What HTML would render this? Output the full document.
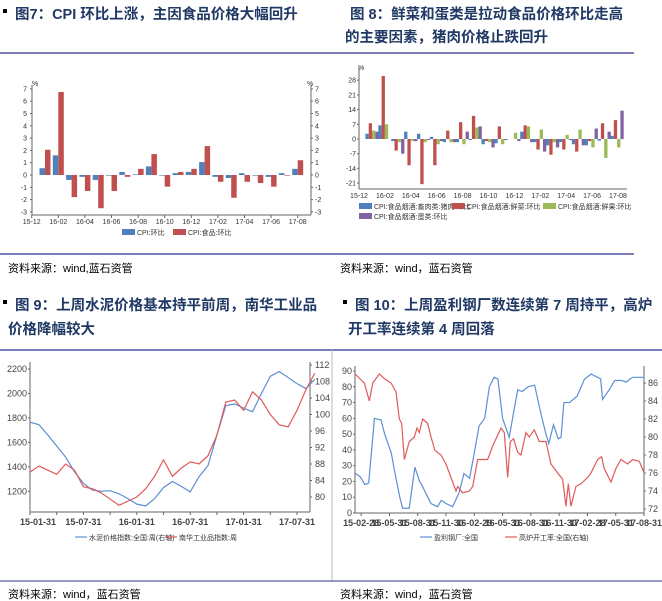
<!DOCTYPE html>
<html><head><meta charset="utf-8"><style>
body{margin:0;background:#fff}
svg{display:block;font-family:"Liberation Sans","Noto Sans CJK SC",sans-serif}
.tt{font-weight:bold;fill:#1f3864;font-size:14.5px}
.src{font-size:11px;fill:#000}
.ax{font-size:7px;fill:#333}
.ax2{font-size:9px;fill:#444}
</style></head><body>
<svg id="s" width="662" height="601" viewBox="0 0 662 601">
<rect x="3" y="9" width="4" height="4" fill="#000"/>
<text class="tt" x="15" y="19">图7：CPI 环比上涨，主因食品价格大幅回升</text>
<text class="tt" x="350" y="19">图 8：鲜菜和蛋类是拉动食品价格环比走高</text>
<text class="tt" x="345" y="42">的主要因素，猪肉价格止跌回升</text>
<line x1="0" y1="53" x2="634" y2="53" stroke="#2e3192" stroke-width="1.2"/>
<line x1="0" y1="254" x2="634" y2="254" stroke="#2e3192" stroke-width="1.2"/>
<text class="src" x="8" y="272">资料来源：wind,蓝石资管</text>
<text class="src" x="340" y="272">资料来源：wind，蓝石资管</text>
<rect x="3" y="300" width="4" height="4" fill="#000"/>
<text class="tt" x="15" y="310">图 9：上周水泥价格基本持平前周，南华工业品</text>
<text class="tt" x="8" y="334">价格降幅较大</text>
<rect x="343" y="300" width="4" height="4" fill="#000"/>
<text class="tt" x="355" y="310">图 10：上周盈利钢厂数连续第 7 周持平，高炉</text>
<text class="tt" x="348" y="334">开工率连续第 4 周回落</text>
<line x1="0" y1="350" x2="662" y2="350" stroke="#2e3192" stroke-width="1.2"/>
<line x1="332" y1="350" x2="332" y2="581" stroke="#bbb" stroke-width="1"/>
<line x1="0" y1="581" x2="662" y2="581" stroke="#2e3192" stroke-width="1"/>
<text class="src" x="8" y="598">资料来源：wind，蓝石资管</text>
<text class="src" x="340" y="598">资料来源：wind，蓝石资管</text>
<g id="g7"></g>
<g id="g8"></g>
<g id="g9"></g>
<g id="g10"></g>
</svg>
<script>
const NS="http://www.w3.org/2000/svg";
function mk(p,t,a,txt){const e=document.createElementNS(NS,t);for(const k in a)e.setAttribute(k,a[k]);if(txt!=null)e.textContent=txt;p.appendChild(e);return e;}

// ---- Chart 7 data ----
const months7=["16-01","16-02","16-03","16-04","16-05","16-06","16-07","16-08","16-09","16-10","16-11","16-12","17-01","17-02","17-03","17-04","17-05","17-06","17-07","17-08"];
const cpiMoM=[0.55,1.6,-0.4,-0.15,-0.4,-0.05,0.25,0.05,0.7,-0.05,0.15,0.25,1.05,-0.15,-0.25,0.15,-0.05,-0.15,0.15,0.5];
const foodMoM=[2.05,6.75,-1.8,-1.3,-2.7,-1.3,-0.15,0.5,1.7,-0.95,0.25,0.5,2.35,-0.55,-1.85,-0.55,-0.65,-0.95,-0.05,1.2];
const ticks7=[-3,-2,-1,0,1,2,3,4,5,6,7];
const xlab7=["15-12","16-02","16-04","16-06","16-08","16-10","16-12","17-02","17-04","17-06","17-08"];

// ---- Chart 8 data ----
const vegMoM=[2.5,6.5,-1,3.5,2.5,1,-1.5,-1.5,-0.5,-2.5,-2,0,3.5,-1.5,-3,-1.5,-2.5,-3,-0.8,1.5];
const freshMoM=[7.5,30,-5.5,-12.5,-21.5,-12.5,4,8,11,-1,6,0,6.5,-5,-7.5,-5,-6,-1,7.5,9];
const porkMoM=[4,7,-1.5,-1,-1.5,-2.5,-1.5,-2.5,5.5,-1.5,-2.5,3,6,4.5,-1.5,2,4.5,-4,-9,-4];
const eggMoM=[3.5,0,-7,-1,-0.5,-1,-1.5,3.5,6,-4,-0.5,-1,-1.5,-6,-4,-0.5,-3,5,3.5,13.5];
const ticks8=[-21,-14,-7,0,7,14,21,28];

// ---- Chart 9 data (month index from 15-01-31) ----
const cementIdx=[1765,1745,1660,1570,1480,1360,1265,1210,1200,1205,1180,1140,1095,1080,1140,1230,1280,1240,1195,1320,1410,1660,1900,1915,1880,1850,2000,2140,2180,2130,2080,2040,2115];
const nanhuaIdx=[86,87.5,86.5,85.5,88,86.5,82.5,82,81,79.5,78,79,80,82,85,89,85,87,88.5,88,90,95,103,103.5,101,105.5,103.5,100,97.5,97,101,106,110];
const ticks9L=[1200,1400,1600,1800,2000,2200];
const ticks9R=[80,84,88,92,96,100,104,108,112];
const xlab9=["15-01-31","15-07-31","16-01-31","16-07-31","17-01-31","17-07-31"];

// ---- Chart 10 data (time in months from 15-01-31) ----
const steelT=[0.4,0.9,1.4,1.8,2.3,2.4,3.1,3.5,4.2,4.5,5.1,5.4,6.1,6.7,7.2,7.5,7.9,8.4,9.1,9.5,10.0,10.7,11.4,11.9,12.5,13.0,13.5,14.1,14.6,15.1,15.5,16.0,16.7,17.6,18.1,18.7,19.4,20.1,20.6,20.9,21.4,21.9,22.2,22.5,23.1,23.9,24.7,25.4,26.4,26.6,27.3,27.9,28.6,29.1,29.8,31.0];
const profitMills=[25,23,18,19,52,60,59,50,38,28,10,3,3,29,20,17,12,6,4,8,6,4,13,25,22,38,55,60,80,86,85,60,48,78,77,80,81,62,50,44,56,47,48,70,70,74,85,88,85,72,78,84,84,83,86,86];
const furnT=[0.35,1.34,1.87,2.23,2.93,3.46,4.17,4.7,5.05,5.3,5.58,6.11,6.64,6.93,7.17,7.53,8.06,8.41,8.83,9.47,10.0,10.53,11.06,11.24,11.77,12.47,12.83,13.36,13.89,14.42,14.95,15.83,16.18,16.54,16.82,17.17,17.6,17.95,18.48,18.83,19.36,19.89,20.6,21.13,21.84,22.37,22.72,22.97,23.25,23.78,24.31,25.02,25.37,26.08,26.5,26.78,27.49,28.02,28.55,29.26,29.79,30.49,31.02];
const furnaceRate=[87,86,84,86,87,86.5,86,85,82,81.5,77.5,79.5,80,81,80.5,82,81.5,80,78.5,78,77,75.5,74,74.5,73.8,74,74.5,77.5,77.5,77.5,79,81,80.5,75.5,79.5,79.8,78.3,78,80.5,80,80.8,79.5,79.5,77,76,75.3,72.3,74.8,72.3,74.5,74.8,75.5,76,77.5,77.8,76.5,75,76.5,77.5,77,77.5,77.3,76];
const ticks10L=[0,10,20,30,40,50,60,70,80,90];
const ticks10R=[72,74,76,78,80,82,84,86];
const xlab10=["15-02-28","15-05-31","15-08-31","15-11-30","16-02-29","16-05-31","16-08-31","16-11-30","17-02-28","17-05-31","17-08-31"];

const BLUE="#4f81bd",RED="#c0504d",GREEN="#9bbb59",PURP="#8064a2";

// ===== Chart 7 =====
(function(){
 const g=document.getElementById('g7');
 const y=v=>175-v*12.3, x=i=>45+13.3*i, x0=32,x1=311;
 mk(g,'line',{x1:x0,y1:y(7)-4,x2:x0,y2:215,stroke:'#666','stroke-width':1});
 mk(g,'line',{x1:x1,y1:y(7)-4,x2:x1,y2:215,stroke:'#666','stroke-width':1});
 mk(g,'line',{x1:x0,y1:215,x2:x1,y2:215,stroke:'#666','stroke-width':1});
 ticks7.forEach(t=>{
  const l=mk(g,'text',{class:'ax',x:x0-5,y:y(t)+2.5,'text-anchor':'end'},t);
  
  mk(g,'line',{x1:x0-2,y1:y(t),x2:x0,y2:y(t),stroke:'#666'});
  const r=mk(g,'text',{class:'ax',x:x1+4,y:y(t)+2.5},t);
  
  mk(g,'line',{x1:x1,y1:y(t),x2:x1+2,y2:y(t),stroke:'#666'});
 });
 mk(g,'text',{class:'ax',x:x0,y:y(7)-3,'font-size':5},'%');
 mk(g,'text',{class:'ax',x:x1-4,y:y(7)-3,'font-size':5},'%');
 xlab7.forEach((s,k)=>{const xx=45+13.3*(2*k-1);
  const t=mk(g,'text',{class:'ax',x:xx,y:224,'text-anchor':'middle'},s);
  
  mk(g,'line',{x1:xx,y1:215,x2:xx,y2:218,stroke:'#666'});});
 months7.forEach((m,i)=>{
  const a=cpiMoM[i],b=foodMoM[i];
  const r1=mk(g,'rect',{x:x(i)-5.5,y:Math.min(y(a),y(0)),width:5.5,height:Math.abs(y(a)-y(0)),fill:BLUE});
  
  const r2=mk(g,'rect',{x:x(i),y:Math.min(y(b),y(0)),width:5.5,height:Math.abs(y(b)-y(0)),fill:RED});
  
 });
 mk(g,'rect',{x:122,y:229,width:13,height:6,fill:BLUE});
 mk(g,'text',{class:'ax',x:137,y:235},'CPI:环比');
 mk(g,'rect',{x:173,y:229,width:13,height:6,fill:RED});
 mk(g,'text',{class:'ax',x:188,y:235},'CPI:食品:环比');
})();

// ===== Chart 8 =====
(function(){
 const g=document.getElementById('g8');
 const y=v=>139-v*2.1, x=i=>372+12.9*i, x0=359,x1=627;
 mk(g,'line',{x1:x0,y1:68,x2:x0,y2:189,stroke:'#666'});
 mk(g,'line',{x1:x0,y1:189,x2:x1,y2:189,stroke:'#666'});
 ticks8.forEach(t=>{
  const l=mk(g,'text',{class:'ax',x:x0-3,y:y(t)+2.5,'text-anchor':'end'},t);
  
  mk(g,'line',{x1:x0-2,y1:y(t),x2:x0,y2:y(t),stroke:'#666'});});
 mk(g,'text',{class:'ax',x:x0-1,y:70,'font-size':5},'%');
 xlab7.forEach((s,k)=>{const xx=359+12.95*2*k;
  const t=mk(g,'text',{class:'ax',x:xx,y:198,'text-anchor':'middle'},s);
  });
 const ser=[vegMoM,freshMoM,porkMoM,eggMoM],cols=[BLUE,RED,GREEN,PURP],nm=['veg','fresh','pork','egg'];
 months7.forEach((m,i)=>{ser.forEach((arr,s)=>{
  const v=arr[i];
  const r=mk(g,'rect',{x:x(i)-6.6+s*3.3,y:Math.min(y(v),y(0)),width:3.3,height:Math.abs(y(v)-y(0)),fill:cols[s]});
  
 });});
 const leg=[[359,203,BLUE,'CPI:食品烟酒:畜肉类:猪肉:环比'],[452,203,RED,'CPI:食品烟酒:鲜菜:环比'],[543,203,GREEN,'CPI:食品烟酒:鲜果:环比'],[359,213,PURP,'CPI:食品烟酒:蛋类:环比']];
 leg.forEach(l=>{mk(g,'rect',{x:l[0],y:l[1],width:13,height:6,fill:l[2]});mk(g,'text',{class:'ax','font-size':5.5,x:l[0]+15,y:l[1]+6},l[3]);});
})();

// ===== Chart 9 =====
(function(){
 const g=document.getElementById('g9');
 const yL=v=>369+(2200-v)*0.1223, yR=v=>365+(112-v)*4.125, x=m=>30+8.9*m, x0=30,x1=310,yb=512;
 mk(g,'line',{x1:x0,y1:362,x2:x0,y2:yb,stroke:'#666'});
 mk(g,'line',{x1:x1,y1:362,x2:x1,y2:yb,stroke:'#666'});
 mk(g,'line',{x1:x0,y1:yb,x2:x1,y2:yb,stroke:'#666'});
 ticks9L.forEach(t=>{const l=mk(g,'text',{class:'ax2',x:x0-3,y:yL(t)+3,'text-anchor':'end'},t);
  
  mk(g,'line',{x1:x0-2,y1:yL(t),x2:x0,y2:yL(t),stroke:'#666'});});
 ticks9R.forEach(t=>{const l=mk(g,'text',{class:'ax2',x:x1+5,y:yR(t)+3},t);
  
  mk(g,'line',{x1:x1,y1:yR(t),x2:x1+2,y2:yR(t),stroke:'#666'});});
 for(let m=0;m<=31;m+=3)mk(g,'line',{x1:x(m),y1:yb,x2:x(m),y2:yb+3,stroke:'#666'});
 xlab9.forEach((s,k)=>{const t=mk(g,'text',{class:'ax2','font-size':8.5,x:x(6*k)+(k==0?8:0),y:525,'text-anchor':'middle','font-weight':'bold'},s);
  });
 const p1=mk(g,'polyline',{points:cementIdx.map((v,i)=>x(i)+','+yL(v)).join(' '),fill:'none',stroke:'#5b8fd6','stroke-width':1.2});
 
 const p2=mk(g,'polyline',{points:nanhuaIdx.map((v,i)=>x(i)+','+yR(v)).join(' '),fill:'none',stroke:'#e05a5a','stroke-width':1.2});
 
 mk(g,'line',{x1:75,y1:537,x2:87,y2:537,stroke:'#5b8fd6','stroke-width':1.2});
 mk(g,'text',{class:'ax',x:89,y:540},'水泥价格指数:全国:周(右轴)');
 mk(g,'line',{x1:165,y1:537,x2:177,y2:537,stroke:'#e05a5a','stroke-width':1.2});
 mk(g,'text',{class:'ax',x:179,y:540},'南华工业品指数:周');
})();

// ===== Chart 10 =====
(function(){
 const g=document.getElementById('g10');
 const yL=v=>513-v*1.578, yR=v=>383+(86-v)*9.0, x=m=>351.7+9.43*m, x0=355,x1=644,yb=513;
 mk(g,'line',{x1:x0,y1:366,x2:x0,y2:yb,stroke:'#666'});
 mk(g,'line',{x1:x1,y1:366,x2:x1,y2:yb,stroke:'#666'});
 mk(g,'line',{x1:x0,y1:yb,x2:x1,y2:yb,stroke:'#666'});
 ticks10L.forEach(t=>{const l=mk(g,'text',{class:'ax2',x:x0-3,y:yL(t)+3,'text-anchor':'end'},t);
  
  mk(g,'line',{x1:x0-2,y1:yL(t),x2:x0,y2:yL(t),stroke:'#666'});});
 ticks10R.forEach(t=>{const l=mk(g,'text',{class:'ax2',x:x1+4,y:yR(t)+3},t);
  
  mk(g,'line',{x1:x1,y1:yR(t),x2:x1+2,y2:yR(t),stroke:'#666'});});
 xlab10.forEach((s,k)=>{const t=mk(g,'text',{class:'ax2','font-size':8,x:x(1+3*k),y:526,'text-anchor':'middle','font-weight':'bold'},s);
  
  mk(g,'line',{x1:x(1+3*k),y1:yb,x2:x(1+3*k),y2:yb+3,stroke:'#666'});});
 const p1=mk(g,'polyline',{points:steelT.map((t,i)=>x(t)+','+yL(profitMills[i])).join(' '),fill:'none',stroke:'#5b8fd6','stroke-width':1.2});
 
 const p2=mk(g,'polyline',{points:furnT.map((t,i)=>x(t)+','+yR(furnaceRate[i])).join(' '),fill:'none',stroke:'#e05a5a','stroke-width':1.2});
 
 mk(g,'line',{x1:420,y1:537,x2:432,y2:537,stroke:'#5b8fd6','stroke-width':1.2});
 mk(g,'text',{class:'ax',x:434,y:540},'盈利钢厂:全国');
 mk(g,'line',{x1:505,y1:537,x2:517,y2:537,stroke:'#e05a5a','stroke-width':1.2});
 mk(g,'text',{class:'ax',x:519,y:540},'高炉开工率:全国(右轴)');
})();
</script>
</body></html>
